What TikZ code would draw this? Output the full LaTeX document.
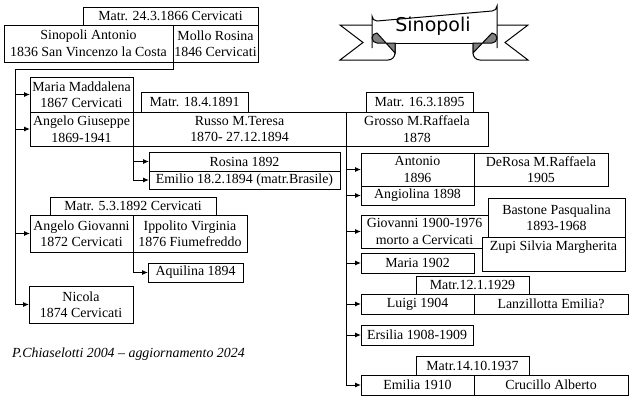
\documentclass[tikz,border=0pt]{standalone}
\usepackage{fontspec}
\setmainfont{Liberation Serif}
\newfontfamily\bannerfont{DejaVu Sans}
\usetikzlibrary{arrows.meta}
\definecolor{foldgray}{RGB}{128,128,128}
\tikzset{
  fam/.style={draw, fill=white, line width=1pt, inner sep=0pt, outer sep=0pt,
    align=center, font=\fontsize{13.9}{16.5}\selectfont, anchor=center},
  conn/.style={line width=1pt},
  arr/.style={conn, -{Latex[length=6pt,width=5pt]}},
  ribbon/.style={line width=1pt},
}
\newcommand\bx[6]{\node[fam, minimum width={(#4-#2)*1pt}, minimum height={(#5-#3)*1pt}] (#1) at ({(#2+#4)/2},{(#3+#5)/2}) {#6};}
\begin{document}
\begin{tikzpicture}[x=1pt,y=-1pt]
\useasboundingbox (0,0) rectangle (630,400);
% boxes
\bx{m1}{83}{7}{258}{25}{Matr. 24.3.1866 Cervicati}
\bx{sin}{4}{25}{173}{62}{Sinopoli Antonio\\1836 San Vincenzo la Costa}
\bx{mol}{173}{25}{258}{62}{Mollo Rosina\\1846 Cervicati}
\bx{mm}{30}{77}{133}{112}{Maria Maddalena\\1867 Cervicati}
\bx{ag}{30}{112}{133}{146}{Angelo Giuseppe\\1869-1941}
\bx{m2}{141}{92}{248}{112}{Matr. 18.4.1891}
\bx{rus}{133}{112}{346}{146}{Russo M.Teresa\\1870- 27.12.1894}
\bx{m3}{366}{92}{473}{112}{Matr. 16.3.1895}
\bx{gro}{346}{112}{488}{146}{Grosso M.Raffaela\\1878}
\bx{ros}{149}{152}{340}{171}{Rosina 1892}
\bx{emi}{149}{171}{340}{189}{Emilio 18.2.1894 (matr.Brasile)}
\bx{m4}{50}{197}{216}{215}{Matr. 5.3.1892 Cervicati}
\bx{agv}{30}{215}{133}{252}{Angelo Giovanni\\1872 Cervicati}
\bx{ipp}{133}{215}{247}{252}{Ippolito Virginia\\1876 Fiumefreddo}
\bx{aqu}{148}{263}{243}{282}{Aquilina 1894}
\bx{nic}{29}{286}{133}{323}{Nicola\\1874 Cervicati}
\bx{ant}{361}{153}{474}{186}{Antonio\\1896}
\bx{der}{474}{153}{608}{186}{DeRosa M.Raffaela\\1905}
\bx{ang}{361}{186}{474}{205}{Angiolina 1898}
\bx{gio}{361}{215}{488}{248}{Giovanni 1900-1976\\morto a Cervicati}
\bx{bas}{488}{198}{625}{237}{Bastone Pasqualina\\1893-1968}
\bx{zup}{482}{237}{625}{271}{Zupi Silvia Margherita\\\mbox{}}
\bx{mar}{361}{253}{474}{273}{Maria 1902}
\bx{m5}{416}{276}{529}{294}{Matr.12.1.1929}
\bx{lui}{361}{294}{474}{314}{Luigi 1904}
\bx{lan}{474}{294}{628}{314}{Lanzillotta Emilia?}
\bx{ers}{361}{325}{473}{345}{Ersilia 1908-1909}
\bx{m6}{416}{356}{529}{375}{Matr.14.10.1937}
\bx{emf}{361}{375}{474}{395}{Emilia 1910}
\bx{cru}{474}{375}{628}{395}{Crucillo Alberto}
% connectors
\coordinate (t1) at (15,69);
\draw[arr] (sin.south east) |- (t1) |- (nic.west);
\draw[arr] (t1 |- mm.west) -- (mm.west);
\draw[arr] (t1 |- ag.west) -- (ag.west);
\draw[arr] (t1 |- agv.west) -- (agv.west);
\draw[arr] (rus.south west) |- (emi.west);
\draw[arr] (rus.south west |- ros.west) -- (ros.west);
\draw[arr] (ipp.south west) |- (aqu.west);
\draw[arr] (rus.south east) |- (emf.west);
\foreach \c in {ant,ang,gio,mar,lui,ers}
  \draw[arr] (rus.south east |- \c.west) -- (\c.west);
% banner
\draw[ribbon, fill=white] (372,25) -- (340,25) -- (363,42.5) -- (340,60) -- (388,60)
  to[out=0,in=-90] (395,53) -- (395,40);
\draw[ribbon, fill=white] (497,25) -- (528,25) -- (505,42.5) -- (528,60) -- (480,60)
  to[out=180,in=-90] (473,53) -- (473,40);
\fill[white] (372,11) rectangle (497,43);
\draw[ribbon] (372,48) -- (372,16) arc[start angle=180,end angle=90,radius=5]
  -- (492,11) arc[start angle=90,end angle=0,radius=5] -- (497,48);
\draw[ribbon] (395,43) -- (473,43);
\draw[ribbon, fill=foldgray] (395,43) -- (377,43) arc[start angle=90,end angle=270,radius=5]
  -- (395,53) -- cycle;
\draw[ribbon, fill=foldgray] (473,43) -- (492,43) arc[start angle=90,end angle=-90,radius=5]
  -- (473,53) -- cycle;
\node[font=\bannerfont\fontsize{19}{19}\selectfont, inner sep=0pt] (ban) at (433,26) {Sinopoli};
% footer
\node[anchor=west, inner sep=0pt, font=\itshape\fontsize{13.9}{16.5}\selectfont] (foot) at (12,354) {P.Chiaselotti 2004 – aggiornamento 2024};
\end{tikzpicture}
\end{document}
